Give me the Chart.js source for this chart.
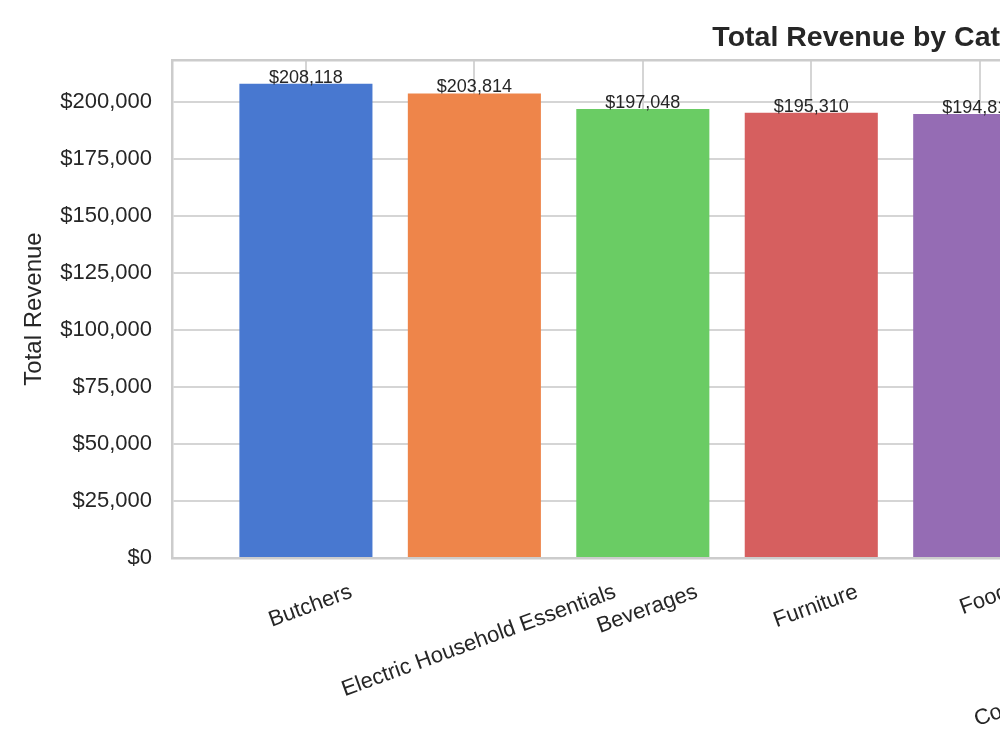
<!DOCTYPE html>
<html>
<head>
<meta charset="utf-8">
<script src="https://cdn.jsdelivr.net/npm/chart.js@4.4.0/dist/chart.umd.min.js"></script>
<style>
  html, body { margin: 0; padding: 0; overflow: hidden; background: #fff; }
  canvas { display: block; }
</style>
</head>
<body>
<canvas id="chart" width="1790" height="749"></canvas>
<script>
// data (bars 6-8 are outside the visible crop, values guessed)
const categories = ['Butchers', 'Electric Household Essentials', 'Beverages', 'Furniture', 'Food',
    'Computers and Electronic Accessories', 'Fashion', 'Kitchen Tools'];
const revenue = [208118, 203814, 197048, 195310, 194812, 192450, 189300, 184700];
const barColors = ['#4878d0', '#ee854a', '#6acc64', '#d65f5f', '#956cb4', '#8c613c', '#dc7ec0', '#797979'];
const yTicks = [0, 25000, 50000, 75000, 100000, 125000, 150000, 175000, 200000];

const FONT = "'Liberation Sans', Arial, sans-serif";
const TEXT = '#262626';
const GRID = '#d5d5d5';
const SPINE = '#cccccc';
const PX_PER_CAT = 168.5;
const ROT = 20 * Math.PI / 180;

Chart.defaults.font.family = FONT;
Chart.defaults.color = TEXT;

function money(v) {
    return '$' + Math.round(v).toLocaleString('en-US');
}

// chart.js right-aligns rotated labels at the tick, matplotlib centres them -> shift each tick
const measureCtx = document.createElement('canvas').getContext('2d');
measureCtx.font = '22px ' + FONT;
const labelShift = categories.map(c =>
    (measureCtx.measureText(c).width * Math.cos(ROT) / 2 + 22 * 1.2 / 2 * Math.sin(ROT)) / PX_PER_CAT);

const valueLabels = {
    id: 'valueLabels',
    afterDatasetsDraw(chart) {
        const ctx = chart.ctx;
        const meta = chart.getDatasetMeta(0);
        ctx.save();
        ctx.font = '18px ' + FONT;
        ctx.fillStyle = TEXT;
        ctx.textAlign = 'center';
        ctx.textBaseline = 'alphabetic';
        meta.data.forEach((bar, i) => {
            ctx.fillText(money(revenue[i]), bar.x, bar.y - 1);
        });
        ctx.restore();
    }
};

const xMin = -0.795;
const xMax = categories.length - 1 + 0.795;

new Chart(document.getElementById('chart'), {
    type: 'bar',
    data: {
        datasets: [{
            data: revenue.map((v, i) => ({x: i, y: v})),
            backgroundColor: barColors,
            borderWidth: 0,
            barPercentage: 0.79,
            categoryPercentage: 1.0,
            xAxisID: 'x',
            yAxisID: 'y'
        }]
    },
    options: {
        responsive: false,
        animation: false,
        layout: {padding: 0},
        plugins: {
            legend: {display: false},
            tooltip: {enabled: false},
            title: {
                display: true,
                text: 'Total Revenue by Category',
                color: TEXT,
                font: {size: 28.5, weight: 'bold'},
                padding: {top: 21.5, bottom: 4.3}
            }
        },
        scales: {
            x: {
                type: 'linear',
                position: 'bottom',
                offset: false,
                weight: 0,
                min: xMin,
                max: xMax,
                afterBuildTicks: a => { a.ticks = categories.map((c, i) => ({value: i})); },
                afterFit: a => { a.height = 0; },
                ticks: {display: false},
                grid: {color: GRID, lineWidth: 2, drawTicks: false, offset: false},
                border: {display: true, color: SPINE, width: 2.5, z: 1}
            },
            xl: {
                type: 'linear',
                position: 'bottom',
                offset: false,
                weight: 1,
                min: xMin,
                max: xMax,
                afterBuildTicks: a => { a.ticks = categories.map((c, i) => ({value: i + labelShift[i]})); },
                afterFit: a => { a.height = 191; },
                ticks: {
                    autoSkip: false,
                    minRotation: 20,
                    maxRotation: 20,
                    padding: 21,
                    color: TEXT,
                    font: {size: 22},
                    callback: (v, i) => categories[i]
                },
                grid: {display: false, drawTicks: false},
                border: {display: false}
            },
            xt: {
                type: 'linear',
                position: 'top',
                afterFit: a => { a.height = 0; },
                ticks: {display: false},
                grid: {color: 'rgba(0,0,0,0)', drawTicks: false},
                border: {display: true, color: SPINE, width: 2.5}
            },
            y: {
                type: 'linear',
                position: 'left',
                min: 0,
                max: 218500,
                afterBuildTicks: a => { a.ticks = yTicks.map(v => ({value: v})); },
                afterFit: a => { a.width = 172; },
                ticks: {padding: 20, color: TEXT, font: {size: 22}, callback: v => money(v)},
                grid: {color: GRID, lineWidth: 2, drawTicks: false},
                border: {display: true, color: SPINE, width: 2.5},
                title: {
                    display: true,
                    text: 'Total Revenue',
                    color: TEXT,
                    font: {size: 24},
                    padding: {top: 20}
                }
            },
            yr: {
                type: 'linear',
                position: 'right',
                afterFit: a => { a.width = 171; },
                ticks: {display: false},
                grid: {display: false, drawTicks: false},
                border: {display: false}
            }
        }
    },
    plugins: [valueLabels]
});
</script>
</body>
</html>
